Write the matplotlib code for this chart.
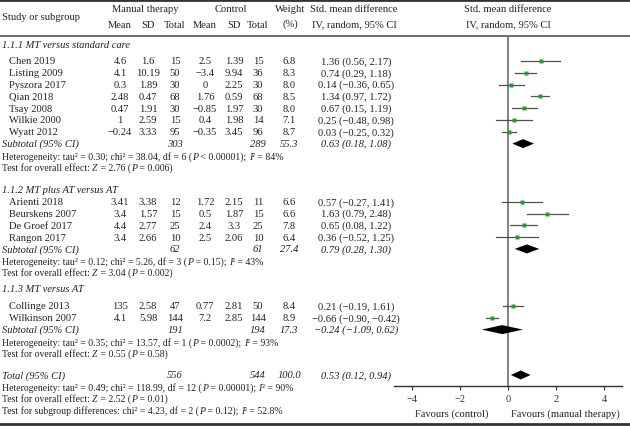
import matplotlib.pyplot as plt

plt.rcParams['font.family'] = 'Liberation Serif'

# Subgroups and studies
groups = ["1.1.1 MT versus standard care", "1.1.2 MT plus AT versus AT", "1.1.3 MT versus AT"]
group_of = [0, 0, 0, 0, 0, 0, 0, 1, 1, 1, 1, 2, 2]
studies = ["Chen 2019", "Listing 2009", "Pyszora 2017", "Qian 2018", "Tsay 2008", "Wilkie 2000",
           "Wyatt 2012", "Arienti 2018", "Beurskens 2007", "De Groef 2017", "Rangon 2017",
           "Collinge 2013", "Wilkinson 2007"]
mt_mean = [4.6, 4.1, 0.3, 2.48, 0.47, 1, -0.24, 3.41, 3.4, 4.4, 3.4, 135, 4.1]
mt_sd = [1.6, 10.19, 1.89, 0.47, 1.91, 2.59, 3.33, 3.38, 1.57, 2.77, 2.66, 2.58, 5.98]
mt_n = [15, 50, 30, 68, 30, 15, 95, 12, 15, 25, 10, 47, 144]
ct_mean = [2.5, -3.4, 0, 1.76, -0.85, 0.4, -0.35, 1.72, 0.5, 2.4, 2.5, 0.77, 7.2]
ct_sd = [1.39, 9.94, 2.25, 0.59, 1.97, 1.98, 3.45, 2.15, 1.87, 3.3, 2.06, 2.81, 2.85]
ct_n = [15, 36, 30, 68, 30, 14, 96, 11, 15, 25, 10, 50, 144]
weight = [6.8, 8.3, 8.0, 8.5, 8.0, 7.1, 8.7, 6.6, 6.6, 7.8, 6.4, 8.4, 8.9]
smd = [1.36, 0.74, 0.14, 1.34, 0.67, 0.25, 0.03, 0.57, 1.63, 0.65, 0.36, 0.21, -0.66]
ci_lo = [0.56, 0.29, -0.36, 0.97, 0.15, -0.48, -0.25, -0.27, 0.79, 0.08, -0.52, -0.19, -0.90]
ci_hi = [2.17, 1.18, 0.65, 1.72, 1.19, 0.98, 0.32, 1.41, 2.48, 1.22, 1.25, 0.61, -0.42]
# the table prints 1.61 for Collinge, the bar itself stops at 0.61
printed_hi = list(ci_hi)
printed_hi[11] = 1.61

# Subtotals per subgroup
sub_mt_n = [303, 62, 191]
sub_ct_n = [289, 61, 194]
sub_weight = [55.3, 27.4, 17.3]
sub_smd = [0.63, 0.79, -0.24]
sub_lo = [0.18, 0.28, -1.09]
sub_hi = [1.08, 1.30, 0.62]
het_tau2 = [0.30, 0.12, 0.35]
het_chi2 = [38.04, 5.26, 13.57]
het_df = [6, 3, 1]
het_p = ["< 0.00001", "= 0.15", "= 0.0002"]
het_i2 = [84, 43, 93]
z_val = [2.76, 3.04, 0.55]
z_p = ["0.006", "0.002", "0.58"]

# Overall
tot_mt_n, tot_ct_n, tot_weight = 556, 544, 100.0
tot_smd, tot_lo, tot_hi = 0.53, 0.12, 0.94
tot_tau2, tot_chi2, tot_df, tot_p, tot_i2 = 0.49, 118.99, 12, "= 0.00001", 90
tot_z, tot_z_p = 2.52, "0.01"
subdiff_chi2, subdiff_df, subdiff_p, subdiff_i2 = 4.23, 2, "0.12", "52.8"


def fmt(v):
    return f"{v:g}".replace("-", "\u2212")


def ci_txt(m, lo, hi):
    return f"{m:.2f} ({lo:.2f}, {hi:.2f})".replace("-", "\u2212")


fig = plt.figure(figsize=(6.3, 4.27), dpi=100)
tab = fig.add_axes([0, 0, 1, 1])
tab.set_xlim(0, 630)
tab.set_ylim(427, 0)
tab.axis("off")

# forest panel: x in SMD units, y in the same row units as the table
ax = fig.add_axes([394 / 630, 1 - 387 / 427, 228 / 630, 350 / 427])
ax.set_xlim(-4.75, 4.75)
ax.set_ylim(387, 37)
ax.patch.set_alpha(0)
for s in ["top", "left", "right"]:
    ax.spines[s].set_visible(False)
ax.spines["bottom"].set_linewidth(1.0)
ax.spines["bottom"].set_color("#333333")
ax.set_yticks([])
ax.set_xticks([-4, -2, 0, 2, 4])
ax.tick_params(axis="x", direction="out", length=3, width=0.8, labelsize=7.5,
               colors="#333333", pad=2.5)
ax.axvline(0, color="#777777", lw=1.3, zorder=1)

fs = 7.6
fs_stat = 7.0
cols = [120, 148, 175, 205, 234, 258, 289]
smd_x = 356


def txt(x, y, s, ha="center", style="normal", size=fs):
    return tab.text(x, y, s, ha=ha, va="center", fontsize=size, style=style, color="#222222")


def rich(x, y, parts):
    # plain / italic pieces chained one after another on the same line
    prev = None
    for s, style in parts:
        if prev is None:
            prev = txt(x, y, s, ha="left", size=fs_stat)
        else:
            prev = tab.annotate(s, xy=(1, 0), xycoords=prev, va="bottom", ha="left",
                                fontsize=fs_stat, style=style, color="#222222")


def diamond(m, lo, hi, y, h=4.5):
    ax.fill([lo, m, hi, m], [y, y - h, y, y + h], color="black", lw=0, zorder=3)


def het_line(y, tau2, chi2, df, p, i2):
    rich(2, y, [(f"Heterogeneity: tau\u00b2 = {tau2:.2f}; chi\u00b2 = {chi2:.2f}, df = {df} (", "normal"),
                ("P", "italic"), (f" {p}); ", "normal"), ("I", "italic"), (f"\u00b2 = {i2}%", "normal")])


def z_line(y, z, p):
    rich(2, y, [("Test for overall effect: ", "normal"), ("Z", "italic"), (f" = {z:.2f} (", "normal"),
                ("P", "italic"), (f" = {p})", "normal")])


# header
tab.axhline(1, color="#333333", lw=2)
tab.plot([0, 630], [37, 37], color="#555555", lw=1.2)
tab.axhline(425, color="#333333", lw=2)
txt(2, 17, "Study or subgroup", ha="left")
txt(145, 9, "Manual therapy")
txt(231, 9, "Control")
for x, h in zip(cols[:6], ["Mean", "SD", "Total", "Mean", "SD", "Total"]):
    txt(x, 26, h)
txt(290, 9, "Weight")
txt(290, 24, "(%)")
txt(354, 9, "Std. mean difference")
txt(354, 25, "IV, random, 95% CI")
txt(508, 9, "Std. mean difference")
txt(508, 25, "IV, random, 95% CI")

group_top = [46, 191, 290]
first_gap = [16, 11.7, 17]
step = 11.8

for g, name in enumerate(groups):
    y = group_top[g]
    txt(2, y, name, ha="left", style="italic")
    y += first_gap[g]
    for i in [k for k, gg in enumerate(group_of) if gg == g]:
        txt(9, y, studies[i], ha="left")
        vals = [fmt(mt_mean[i]), fmt(mt_sd[i]), str(mt_n[i]),
                fmt(ct_mean[i]), fmt(ct_sd[i]), str(ct_n[i]), f"{weight[i]:.1f}"]
        for x, v in zip(cols, vals):
            txt(x, y, v)
        txt(smd_x, y, ci_txt(smd[i], ci_lo[i], printed_hi[i]))
        ax.plot([ci_lo[i], ci_hi[i]], [y, y], color="#505050", lw=0.9, zorder=2)
        ax.plot(smd[i], y, marker="s", ms=2.4, color="#22a02e", mec="none", zorder=4)
        y += step
    txt(2, y, "Subtotal (95% CI)", ha="left", style="italic")
    txt(cols[2], y, str(sub_mt_n[g]), style="italic")
    txt(cols[5], y, str(sub_ct_n[g]), style="italic")
    txt(cols[6], y, f"{sub_weight[g]:.1f}", style="italic")
    txt(smd_x, y, ci_txt(sub_smd[g], sub_lo[g], sub_hi[g]), style="italic")
    diamond(sub_smd[g], sub_lo[g], sub_hi[g], y)
    y += step + 0.4
    het_line(y, het_tau2[g], het_chi2[g], het_df[g], het_p[g], het_i2[g])
    y += step
    z_line(y, z_val[g], z_p[g])

# overall
y = 376
txt(2, y, "Total (95% CI)", ha="left", style="italic")
txt(cols[2], y, str(tot_mt_n), style="italic")
txt(cols[5], y, str(tot_ct_n), style="italic")
txt(cols[6], y, f"{tot_weight:.1f}", style="italic")
txt(smd_x, y, ci_txt(tot_smd, tot_lo, tot_hi), style="italic")
diamond(tot_smd, tot_lo, tot_hi, y)
het_line(388, tot_tau2, tot_chi2, tot_df, tot_p, tot_i2)
z_line(400, tot_z, tot_z_p)
rich(2, 411.5, [(f"Test for subgroup differences: chi\u00b2 = {subdiff_chi2:.2f}, df = {subdiff_df} (", "normal"),
                ("P", "italic"), (f" = {subdiff_p}); ", "normal"), ("I", "italic"),
                (f"\u00b2 = {subdiff_i2}%", "normal")])

txt(452, 414, "Favours (control)")
txt(565, 414, "Favours (manual therapy)")

fig.savefig("out.png", dpi=100)
